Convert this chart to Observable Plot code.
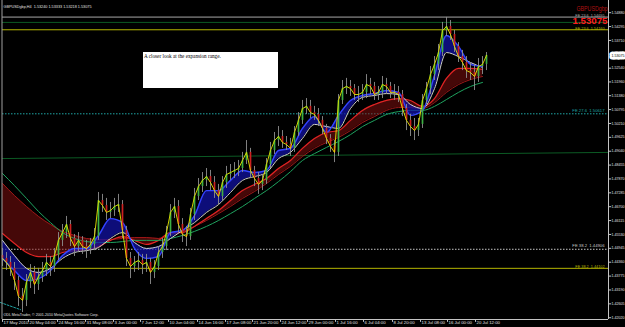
<!DOCTYPE html>
<html><head><meta charset="utf-8">
<script src="https://cdn.jsdelivr.net/npm/d3@7"></script>
<script src="https://cdn.jsdelivr.net/npm/@observablehq/plot@0.6"></script>
<style>
html,body{margin:0;padding:0;background:#000;overflow:hidden;width:625px;height:327px}
#wrap{position:relative;width:625px;height:327px}
#note{position:absolute;left:143px;top:52px;width:135px;height:36px;background:#fff;font:5.2px "Liberation Serif","Times New Roman",serif;color:#000;padding:1px 0 0 1px;box-sizing:border-box;white-space:nowrap}
</style></head><body><div id="wrap"><div id="chart"></div><div id="note">A closer look at the expansion range.</div></div>
<script>
// ---- data (H4 bars, GBPUSD) ----
const closes = [1.4452,1.4435,1.4410,1.4359,1.4292,1.4275,1.4351,1.4393,1.4342,1.4376,
1.4401,1.4435,1.4418,1.4464,1.4528,1.4561,1.4595,1.4536,1.4502,1.4528,
1.4502,1.4494,1.4511,1.4544,1.4696,1.4675,1.4646,1.4654,1.4671,1.4679,
1.4570,1.4452,1.4418,1.4435,1.4443,1.4426,1.4435,1.4393,1.4418,1.4477,
1.4502,1.4561,1.4646,1.4671,1.4595,1.4553,1.4544,1.4637,1.4713,1.4755,
1.4781,1.4797,1.4772,1.4738,1.4713,1.4772,1.4806,1.4814,1.4823,1.4831,
1.4865,1.4899,1.4823,1.4789,1.4764,1.4781,1.4848,1.4907,1.4949,1.4966,
1.4941,1.4932,1.4916,1.4983,1.5034,1.5084,1.5093,1.5067,1.5059,1.5034,
1.5000,1.4958,1.4924,1.4899,1.5118,1.5168,1.5177,1.5168,1.5143,1.5143,
1.5152,1.5185,1.5177,1.5143,1.5152,1.5185,1.5177,1.5152,1.5152,1.5143,
1.5084,1.5034,1.5008,1.4991,1.5017,1.5118,1.5168,1.5227,1.5270,1.5320,
1.5413,1.5430,1.5396,1.5346,1.5303,1.5278,1.5244,1.5236,1.5219,1.5261,
1.5270,1.5308];
const opens = [1.4464,1.4452,1.4435,1.4410,1.4359,1.4292,1.4275,1.4351,1.4393,1.4342,
1.4376,1.4401,1.4435,1.4418,1.4464,1.4528,1.4561,1.4595,1.4536,1.4502,
1.4528,1.4502,1.4494,1.4511,1.4544,1.4696,1.4675,1.4646,1.4654,1.4671,
1.4679,1.4570,1.4452,1.4418,1.4435,1.4443,1.4426,1.4435,1.4393,1.4418,
1.4477,1.4502,1.4561,1.4646,1.4671,1.4595,1.4553,1.4544,1.4637,1.4713,
1.4755,1.4781,1.4797,1.4772,1.4738,1.4713,1.4772,1.4806,1.4814,1.4823,
1.4831,1.4865,1.4899,1.4823,1.4789,1.4764,1.4781,1.4848,1.4907,1.4949,
1.4966,1.4941,1.4932,1.4916,1.4983,1.5034,1.5084,1.5093,1.5067,1.5059,
1.5034,1.5000,1.4958,1.4924,1.4899,1.5118,1.5168,1.5177,1.5168,1.5143,
1.5143,1.5152,1.5185,1.5177,1.5143,1.5152,1.5185,1.5177,1.5152,1.5152,
1.5143,1.5084,1.5034,1.5008,1.4991,1.5017,1.5118,1.5168,1.5227,1.5270,
1.5320,1.5413,1.5430,1.5396,1.5346,1.5303,1.5278,1.5244,1.5236,1.5219,
1.5261,1.5270];
const highs = [1.4494,1.4477,1.4460,1.4435,1.4376,1.4325,1.4384,1.4426,1.4418,1.4410,
1.4435,1.4469,1.4460,1.4494,1.4561,1.4595,1.4629,1.4612,1.4553,1.4561,
1.4544,1.4528,1.4536,1.4578,1.4730,1.4722,1.4705,1.4688,1.4705,1.4722,
1.4696,1.4587,1.4477,1.4460,1.4477,1.4469,1.4469,1.4452,1.4443,1.4502,
1.4536,1.4587,1.4679,1.4705,1.4696,1.4620,1.4587,1.4663,1.4747,1.4789,
1.4814,1.4831,1.4823,1.4797,1.4764,1.4797,1.4840,1.4848,1.4856,1.4865,
1.4899,1.4949,1.4916,1.4840,1.4814,1.4806,1.4873,1.4941,1.4983,1.5008,
1.4991,1.4966,1.4958,1.5008,1.5067,1.5118,1.5126,1.5118,1.5093,1.5084,
1.5050,1.5017,1.4974,1.4949,1.5143,1.5202,1.5211,1.5202,1.5185,1.5177,
1.5185,1.5227,1.5211,1.5194,1.5177,1.5219,1.5211,1.5194,1.5185,1.5177,
1.5160,1.5101,1.5059,1.5042,1.5042,1.5143,1.5194,1.5261,1.5303,1.5354,
1.5447,1.5468,1.5455,1.5413,1.5362,1.5329,1.5303,1.5278,1.5270,1.5295,
1.5303,1.5320];
const lows = [1.4418,1.4401,1.4376,1.4317,1.4249,1.4224,1.4249,1.4325,1.4300,1.4317,
1.4351,1.4376,1.4376,1.4393,1.4443,1.4502,1.4536,1.4502,1.4460,1.4477,
1.4469,1.4452,1.4469,1.4485,1.4528,1.4646,1.4612,1.4620,1.4629,1.4646,
1.4536,1.4418,1.4367,1.4393,1.4401,1.4384,1.4393,1.4342,1.4367,1.4401,
1.4452,1.4485,1.4544,1.4620,1.4561,1.4519,1.4502,1.4528,1.4612,1.4696,
1.4730,1.4755,1.4738,1.4705,1.4679,1.4696,1.4747,1.4781,1.4789,1.4797,
1.4814,1.4848,1.4789,1.4755,1.4722,1.4738,1.4764,1.4831,1.4890,1.4924,
1.4916,1.4907,1.4882,1.4899,1.4966,1.5017,1.5059,1.5042,1.5034,1.5008,
1.4974,1.4932,1.4899,1.4856,1.4882,1.5101,1.5143,1.5135,1.5118,1.5109,
1.5118,1.5126,1.5143,1.5118,1.5118,1.5126,1.5143,1.5126,1.5118,1.5109,
1.5050,1.4991,1.4966,1.4949,1.4966,1.5000,1.5101,1.5143,1.5202,1.5244,
1.5303,1.5388,1.5371,1.5320,1.5278,1.5244,1.5211,1.5202,1.5160,1.5194,
1.5227,1.5244];

// moving averages, sampled every 3 bars
const blueMA = [1.4452,1.4401,1.4359,1.4367,1.4401,1.4464,1.4494,1.4494,1.4549,1.4620,
1.4603,1.4494,1.4452,1.4460,1.4561,1.4570,1.4633,1.4738,1.4738,1.4781,
1.4823,1.4814,1.4823,1.4907,1.4916,1.5000,1.5050,1.4983,1.5055,1.5118,
1.5139,1.5147,1.5160,1.5152,1.5055,1.5076,1.5223,1.5392,1.5346,1.5270,1.5261];
const whiteMA = [1.4528,1.4464,1.4410,1.4393,1.4410,1.4452,1.4477,1.4485,1.4498,1.4536,
1.4561,1.4519,1.4494,1.4502,1.4536,1.4570,1.4603,1.4646,1.4679,1.4730,
1.4781,1.4797,1.4814,1.4873,1.4899,1.4958,1.5017,1.5008,1.5000,1.5084,
1.5131,1.5139,1.5147,1.5143,1.5101,1.5084,1.5168,1.5320,1.5303,1.5278,1.5257];
const redFast = [1.4557,1.4515,1.4477,1.4460,1.4460,1.4477,1.4485,1.4490,1.4502,1.4528,
1.4544,1.4528,1.4511,1.4528,1.4561,1.4561,1.4587,1.4620,1.4654,1.4696,
1.4738,1.4764,1.4789,1.4831,1.4865,1.4916,1.4958,1.4983,1.4991,1.5034,
1.5076,1.5101,1.5118,1.5126,1.5118,1.5093,1.5126,1.5211,1.5253,1.5253,1.5249];
const redSlow = [1.4768,1.4717,1.4671,1.4629,1.4595,1.4566,1.4549,1.4536,1.4532,1.4532,
1.4536,1.4540,1.4540,1.4536,1.4553,1.4566,1.4587,1.4612,1.4641,1.4671,
1.4705,1.4734,1.4768,1.4806,1.4840,1.4882,1.4916,1.4941,1.4962,1.4991,
1.5025,1.5050,1.5076,1.5088,1.5088,1.5084,1.5109,1.5152,1.5185,1.5206,1.5219];
const greenMA = [1.4810,1.4759,1.4705,1.4650,1.4603,1.4561,1.4536,1.4523,1.4519,1.4519,
1.4523,1.4528,1.4528,1.4528,1.4536,1.4549,1.4566,1.4587,1.4612,1.4641,
1.4671,1.4705,1.4738,1.4776,1.4818,1.4865,1.4894,1.4920,1.4945,1.4974,
1.5008,1.5034,1.5059,1.5071,1.5076,1.5076,1.5093,1.5122,1.5152,1.5177,1.5194];

// Fibonacci expansion levels
const feSolidPrices = [1.54695, 1.5447, 1.54160, 1.44102];
const feSolidLabels = ["FE 23.6  1.54695", "", "FE 23.6  1.54160", "FE 38.2  1.44102"];
const feSolidColors = ["#a8a8a8", "#0c5a24", "#b4b400", "#b4b400"];
const feDotPrices = [1.50617, 1.44906];
const feDotLabels = ["FE 27.6  1.50617", "FE 38.2  1.44906"];
const feDotColors = ["#1fa5a5", "#c8c8c8"];
const trendDark = [[0, 1.4873], [151.5, 1.4899]];
const trendTeal = [[-0.5, 1.4266], [4.5, 1.4236]];

// axes
const yTicks = [1.54880,1.54295,1.53710,1.52540,1.51960,1.51380,1.50795,1.50210,1.49625,1.49040,
1.48455,1.47870,1.47285,1.46700,1.46115,1.45530,1.44945,1.44360,1.43775,1.43190,1.42605,1.42020];
const timeBars = [0,6.5,13.75,20.75,27.75,34.5,41.5,48.75,55.75,62.5,69.5,76.25,83.25,90.25,97.5,104.5,111.25,118.25];
const timeLabels = ["17 May 2010","20 May 04:00","24 May 16:00","31 May 08:00","3 Jun 00:00","7 Jun 12:00",
"10 Jun 04:00","14 Jun 16:00","17 Jun 08:00","21 Jun 20:00","24 Jun 12:00","29 Jun 00:00","1 Jul 16:00",
"6 Jul 04:00","8 Jul 20:00","13 Jul 08:00","16 Jul 00:00","20 Jul 12:00"];
const bid = 1.53075;
const titleText = "GBPUSDgbp,H4  1.53240 1.53333 1.53218 1.53075";
const footerText = "ODL MetaTrader, \u00A9 2001-2010 MetaQuotes Software Corp.";
const symbolText = "GBPUSDgbp";

// ---- build ----
const bars = closes.map((c, i) => ({i, o: opens[i], h: highs[i], l: lows[i], c}));
const maIdx = d3.range(0, 121, 3);
const ma = maIdx.map((i, k) => ({i, blue: blueMA[k], white: whiteMA[k], rf: redFast[k], rs: redSlow[k], g: greenMA[k]}));
const feSolid = feSolidPrices.map((p, k) => ({p, label: feSolidLabels[k], color: feSolidColors[k]}));
const feDot = feDotPrices.map((p, k) => ({p, label: feDotLabels[k], color: feDotColors[k]}));
const X1 = 151.5, Y0 = 1.41945, Y1 = 1.55394;
const axisCol = "#c4c4c4", txtCol = "#e0e0e0";

const chart = Plot.plot({
  width: 625, height: 327,
  marginLeft: 2, marginRight: 17, marginTop: 0, marginBottom: 8,
  style: {background: "#000", fontFamily: "'Liberation Sans', Arial, sans-serif", overflow: "visible"},
  x: {domain: [0, X1], axis: null},
  y: {domain: [Y0, Y1], axis: null},
  marks: [
    Plot.ruleY(feSolid, {y: "p", stroke: "color", strokeWidth: 1}),
    Plot.ruleY(feDot, {y: "p", stroke: "color", strokeWidth: 1, strokeDasharray: "1.5,1.5"}),
    Plot.line(trendDark, {x: d => d[0], y: d => d[1], stroke: "#0c5a24", strokeWidth: 1}),
    Plot.line(trendTeal, {x: d => d[0], y: d => d[1], stroke: "#1fa5a5", strokeWidth: 1, strokeDasharray: "2,1.5"}),
    // red ribbon
    Plot.areaY(ma, {x: "i", y1: "rf", y2: "rs", fill: "#8a1010", fillOpacity: 0.5, curve: "monotone-x"}),
    Plot.line(ma, {x: "i", y: "rs", stroke: "#a01818", strokeWidth: 1, curve: "monotone-x"}),
    Plot.line(ma, {x: "i", y: "rf", stroke: "#e02424", strokeWidth: 1.2, curve: "monotone-x"}),
    Plot.line(ma, {x: "i", y: "g", stroke: "#1fa35f", strokeWidth: 1, curve: "monotone-x"}),
    // blue ribbon
    Plot.areaY(ma, {x: "i", y1: "blue", y2: "white", fill: "#1212a8", fillOpacity: 0.72, curve: "monotone-x"}),
    Plot.line(ma, {x: "i", y: "white", stroke: "#d0d0d0", strokeWidth: 1, curve: "monotone-x"}),
    Plot.line(ma, {x: "i", y: "blue", stroke: "#3344ff", strokeWidth: 1.4, curve: "monotone-x"}),
    // candles
    Plot.ruleX(bars, {x: "i", y1: "l", y2: "h", stroke: "#8e8e8e", strokeWidth: 0.9}),
    Plot.ruleX(bars, {x: "i", y1: "o", y2: "c", stroke: d => d.c >= d.o ? "#3cb043" : "#cc2020", strokeWidth: 1.7}),
    Plot.line(bars, {x: "i", y: "c", stroke: "#e6e600", strokeWidth: 0.9}),
    // frame
    Plot.ruleX([0], {stroke: "#a0a0a0", dx: -0.5}),
    Plot.ruleX([X1], {stroke: axisCol}),
    Plot.ruleY([Y0], {stroke: axisCol}),
    Plot.ruleY(yTicks, {x1: X1, x2: X1 + 0.8, stroke: axisCol}),
    Plot.ruleX(timeBars, {y1: Y0, y2: Y0 - 0.0012, stroke: axisCol}),
    Plot.text(yTicks, {y: d => d, text: d => d.toFixed(5), frameAnchor: "right", dx: 3, textAnchor: "start", fill: txtCol, fontSize: 3.6}),
    Plot.text([bid], {y: d => d, text: d => d.toFixed(5), frameAnchor: "right", dx: 3, textAnchor: "start", fill: "#000", stroke: "#fff", strokeWidth: 5, fontSize: 3.6}),
    Plot.text(timeBars, {x: d => d, text: (d, i) => timeLabels[i], frameAnchor: "bottom", dy: 4.5, dx: 1, textAnchor: "start", fill: txtCol, fontSize: 4.3}),
    // level labels
    Plot.text(feSolid, {y: "p", text: "label", fill: "color", frameAnchor: "right", dx: -4, dy: -1.4, textAnchor: "end", fontSize: 3.8}),
    Plot.text(feDot, {y: "p", text: "label", fill: "color", frameAnchor: "right", dx: -4, dy: -3.2, textAnchor: "end", fontSize: 4.2}),
    // titles
    Plot.text([titleText], {text: d => d, frameAnchor: "top-left", dx: 1, dy: 4.7, textAnchor: "start", fill: txtCol, fontSize: 4.3}),
    Plot.text([footerText], {text: d => d, frameAnchor: "bottom-left", dx: 1, dy: -4, textAnchor: "start", fill: txtCol, fontSize: 4.1}),
    Plot.text([symbolText], {text: d => d, frameAnchor: "top-right", dx: -1, dy: 5.5, textAnchor: "end", fill: "#b01212", fontSize: 6.5}),
    Plot.text([bid], {text: d => d.toFixed(5), frameAnchor: "top-right", dx: -1, dy: 17.6, textAnchor: "end", fill: "#ff1c1c", fontSize: 9, fontWeight: "bold"})
  ]
});
document.getElementById("chart").appendChild(chart);

// fit long labels to their measured widths
const fit = {[titleText]: 88, [footerText]: 95, [symbolText]: 31};
chart.querySelectorAll("text").forEach(t => {
  const s = t.textContent;
  const g = t.closest("[font-size]");
  const fs = g ? g.getAttribute("font-size") : null;
  let w = null;
  if (s in fit) w = fit[s];
  else if (fs === "9" && s === "1.53075") w = 35;
  if (w) { t.setAttribute("textLength", w); t.setAttribute("lengthAdjust", "spacingAndGlyphs"); }
});
</script></body></html>
